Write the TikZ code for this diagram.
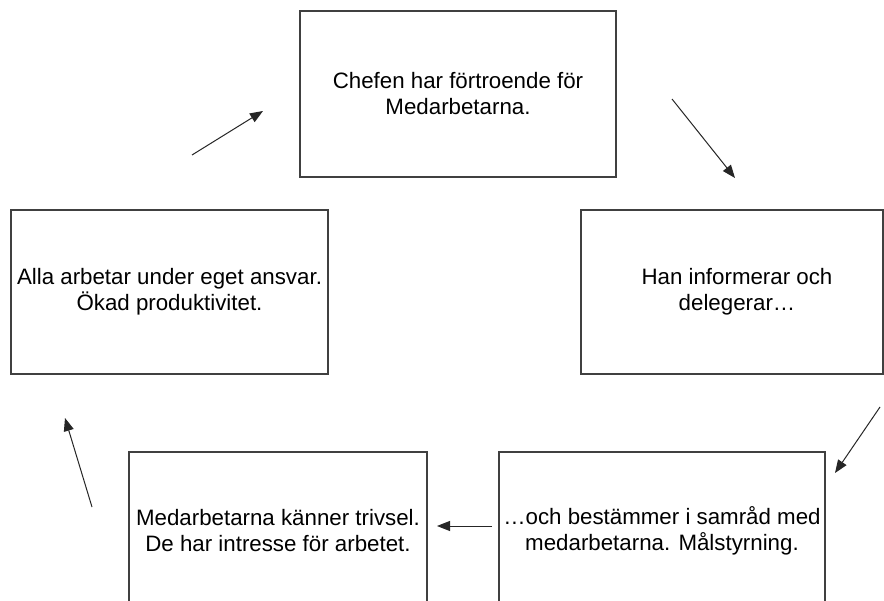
\documentclass[tikz,border=0pt]{standalone}
\usepackage{fontspec}
\setmainfont{Liberation Sans}
\usetikzlibrary{arrows.meta}
\tikzset{
  box/.style={draw=black!75, line width=1.1pt, rectangle, inner sep=0pt, align=center,
    font=\fontsize{22.3}{26}\selectfont},
  conn/.style={draw=black!85, line width=1pt, -{Triangle[length=13pt,width=10pt]}}
}
\begin{document}
\begin{tikzpicture}[x=1pt,y=-1pt]
\useasboundingbox (0,0) rectangle (884,601);
\clip (0,0) rectangle (884,601);
\fill[white] (0,0) rectangle (884,601);
\node[box, minimum width=316pt, minimum height=166pt] (top) at (458,94) {Chefen har förtroende för\\Medarbetarna.};
\node[box, minimum width=302pt, minimum height=164pt] (right) at (732,292) {\hspace*{10pt}Han informerar och\\\hspace*{10pt}delegerar…};
\node[box, minimum width=317pt, minimum height=164pt] (left) at (169.5,292) {Alla arbetar under eget ansvar.\\Ökad produktivitet.};
\node[box, minimum width=298pt, minimum height=158pt] (botleft) at (278,531) {Medarbetarna känner trivsel.\\De har intresse för arbetet.};
\node[box, minimum width=326pt, minimum height=158pt] (botright) at (662,531) {…och bestämmer i samråd med\\medarbetarna. Målstyrning.};
\coordinate (a1s) at (192,155);
\coordinate (a1e) at (263,111);
\coordinate (a2s) at (672,99);
\coordinate (a2e) at (735,178);
\coordinate (a3s) at (880,407);
\coordinate (a3e) at (835,473);
\coordinate (a4s) at (492,526);
\coordinate (a4e) at (437,526);
\coordinate (a5s) at (92,507);
\coordinate (a5e) at (65,418);
\draw[conn] (a1s) -- (a1e);
\draw[conn] (a2s) -- (a2e);
\draw[conn] (a3s) -- (a3e);
\draw[conn] (a4s) -- (a4e);
\draw[conn] (a5s) -- (a5e);
\end{tikzpicture}
\end{document}
